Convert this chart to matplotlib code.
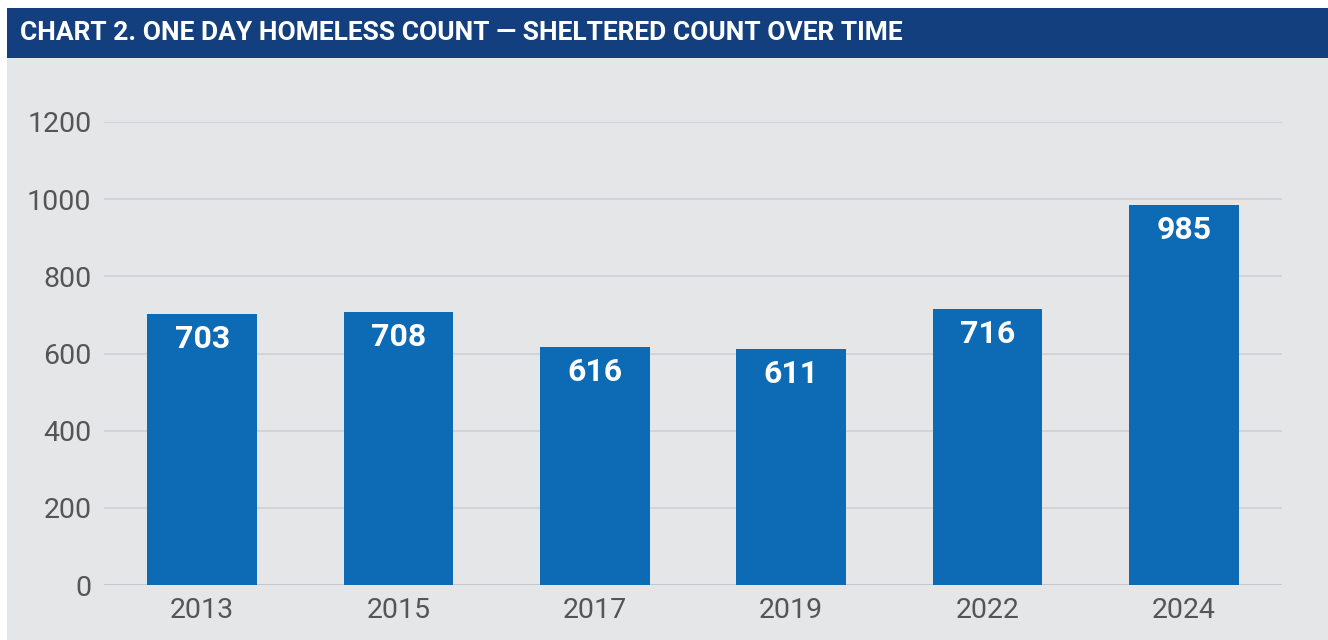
import matplotlib.pyplot as plt
from matplotlib.patches import Rectangle

years = ['2013', '2015', '2017', '2019', '2022', '2024']
counts = [703, 708, 616, 611, 716, 985]
yticks = [0, 200, 400, 600, 800, 1000, 1200]

title = 'CHART 2. ONE DAY HOMELESS COUNT \u2014 SHELTERED COUNT OVER TIME'

plt.rcParams['font.family'] = ['Roboto', 'DejaVu Sans']

fig = plt.figure(figsize=(13.28, 6.4), dpi=100)
fig.patch.set_facecolor('white')

W, H = 1328, 640
# grey panel and blue header band (behind the axes)
fig.patches.append(Rectangle((7 / W, 0), 1 - 7 / W, 1 - 58 / H, transform=fig.transFigure,
                             facecolor='#e5e6e8', edgecolor='none', zorder=-5))
fig.patches.append(Rectangle((7 / W, 1 - 58 / H), 1 - 7 / W, 50 / H, transform=fig.transFigure,
                             facecolor='#133f7f', edgecolor='none', zorder=-5))
fig.text(20 / W, 1 - 33 / H, title, color='white', fontsize=19, fontweight='bold',
         va='center', ha='left')

ax = fig.add_axes([104 / W, 1 - 585 / H, (1282 - 104) / W, (585 - 122) / H])
ax.set_facecolor('none')
ax.set_zorder(2)

x = range(len(years))
bars = ax.bar(x, counts, width=0.56, color='#0d6bb5', zorder=3)
for b, v in zip(bars, counts):
    ax.annotate(str(v), (b.get_x() + b.get_width() / 2, v), xytext=(0, -18),
                textcoords='offset points', ha='center', va='center',
                color='white', fontsize=23, fontweight='bold', zorder=4)

ax.set_xlim(-0.5, len(years) - 0.5)
ax.set_ylim(0, 1200)
ax.set_yticks(yticks)
ax.set_xticks(list(x))
ax.set_xticklabels(years)
ax.grid(axis='y', color='#cfd0d3', linewidth=1.2, zorder=1)
ax.tick_params(length=0, labelsize=20.5, labelcolor='#555555')
ax.tick_params(axis='y', pad=9)
ax.tick_params(axis='x', pad=9)
for s in ax.spines.values():
    s.set_visible(False)
ax.axhline(0, color='#c4c5c8', linewidth=1.2, zorder=2)

fig.savefig('out.png', dpi=100)
